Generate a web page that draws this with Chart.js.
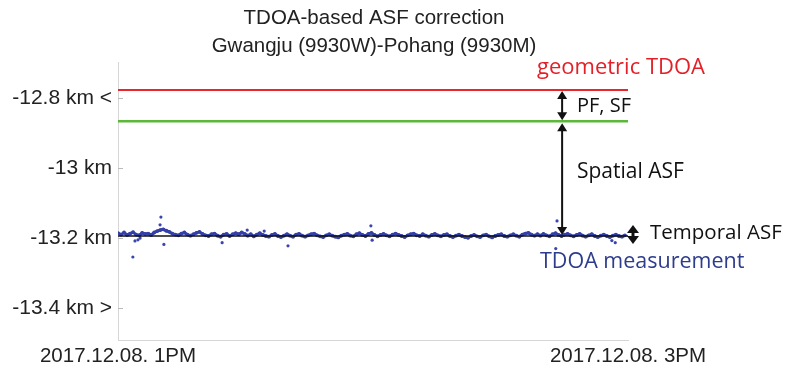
<!DOCTYPE html>
<html>
<head>
<meta charset="utf-8">
<script src="https://cdn.jsdelivr.net/npm/chart.js@4.4.1/dist/chart.umd.min.js"></script>
<style>
  body { margin: 0; background: #fff; }
  #wrap { width: 785px; height: 372px; }
</style>
</head>
<body>
<div id="wrap"><canvas id="asf-chart"></canvas></div>
<script>
// TDOA values in km, time in minutes after 1PM
const titleLines = ['TDOA-based ASF correction', 'Gwangju (9930W)-Pohang (9930M)'];

const xTickValues = [0, 120];
const xTickLabels = ['2017.12.08. 1PM', '2017.12.08. 3PM'];
const yTickValues = [-12.8, -13, -13.2, -13.4];
const yTickLabels = ['-12.8 km <', '-13 km', '-13.2 km', '-13.4 km >'];

const geometricTdoa = -12.777;
const pfSfCorrected = -12.866;
const measurementMean = -13.194;

const sampleStepMin = 0.71;
const tdoaMeasured = [
  -13.186, -13.190, -13.184, -13.191, -13.187, -13.183, -13.190, -13.192, -13.185, -13.188,
  -13.187, -13.191, -13.184, -13.180, -13.177, -13.175, -13.179, -13.182, -13.187, -13.190,
  -13.192, -13.187, -13.184, -13.190, -13.193, -13.189, -13.185, -13.182, -13.188, -13.192,
  -13.194, -13.189, -13.187, -13.193, -13.196, -13.190, -13.188, -13.194, -13.189, -13.186,
  -13.189, -13.184, -13.188, -13.193, -13.189, -13.195, -13.190, -13.186, -13.191, -13.194,
  -13.196, -13.191, -13.188, -13.194, -13.197, -13.193, -13.189, -13.193, -13.196, -13.190,
  -13.188, -13.193, -13.196, -13.192, -13.189, -13.187, -13.192, -13.195, -13.197, -13.192,
  -13.189, -13.193, -13.196, -13.198, -13.193, -13.190, -13.188, -13.193, -13.195, -13.189,
  -13.186, -13.191, -13.194, -13.188, -13.185, -13.191, -13.195, -13.191, -13.188, -13.192,
  -13.195, -13.190, -13.187, -13.191, -13.194, -13.197, -13.192, -13.189, -13.187, -13.192,
  -13.194, -13.189, -13.193, -13.196, -13.191, -13.188, -13.192, -13.195, -13.191, -13.189,
  -13.194, -13.197, -13.193, -13.190, -13.194, -13.197, -13.199, -13.194, -13.191, -13.195,
  -13.197, -13.192, -13.190, -13.195, -13.198, -13.194, -13.191, -13.189, -13.194, -13.196,
  -13.192, -13.189, -13.193, -13.196, -13.190, -13.187, -13.185, -13.190, -13.193, -13.189,
  -13.193, -13.188, -13.192, -13.195, -13.189, -13.186, -13.191, -13.194, -13.190, -13.188,
  -13.192, -13.195, -13.191, -13.188, -13.193, -13.196, -13.192, -13.189, -13.194, -13.197,
  -13.193, -13.190, -13.194, -13.197, -13.193, -13.190, -13.194, -13.196, -13.192
];

// isolated samples away from the band
const outlierTimes = [3.5, 4.0, 4.7, 5.2, 9.9, 10.1, 10.8, 24.5, 30.4, 34.4, 40.0, 59.5, 59.8, 103.3, 103.0, 116.2, 117.0];
const outlierValues = [-13.254, -13.208, -13.205, -13.200, -13.162, -13.140, -13.218, -13.213, -13.177, -13.180, -13.222, -13.165, -13.206, -13.151, -13.230, -13.207, -13.213];

const measuredPoints = tdoaMeasured.map((v, i) => ({ x: i * sampleStepMin, y: v }));
const outlierPoints = outlierTimes.map((t, i) => ({ x: t, y: outlierValues[i] }));
const flatLine = (v) => [{ x: 0, y: v }, { x: 120, y: v }];

const axisGray = '#d6d6d6';

function arrowHead(ctx, x, y, dir, len, half) {
  ctx.beginPath();
  ctx.moveTo(x, y);
  ctx.lineTo(x - half, y - dir * len);
  ctx.lineTo(x + half, y - dir * len);
  ctx.closePath();
  ctx.fill();
}

function doubleArrow(ctx, x, yTop, yBottom, len = 8, half = 5) {
  ctx.beginPath();
  ctx.moveTo(x, yTop + 4);
  ctx.lineTo(x, yBottom - 4);
  ctx.stroke();
  arrowHead(ctx, x, yTop, -1, len, half);
  arrowHead(ctx, x, yBottom, 1, len, half);
}

const annotations = {
  id: 'annotations',
  afterDraw(chart) {
    const { ctx, chartArea, scales: { x, y } } = chart;
    ctx.save();

    // title, centred over the whole figure
    ctx.fillStyle = '#222';
    ctx.textAlign = 'center';
    ctx.textBaseline = 'middle';
    ctx.font = '20.5px "Liberation Sans", Arial';
    ctx.fillText(titleLines[0], 374, 18);
    ctx.fillText(titleLines[1], 374, 46);

    // inward tick marks on the left axis
    ctx.strokeStyle = '#bbbbbb';
    ctx.lineWidth = 1;
    yTickValues.forEach(v => {
      const py = Math.round(y.getPixelForValue(v)) + 0.5;
      ctx.beginPath();
      ctx.moveTo(chartArea.left, py);
      ctx.lineTo(chartArea.left + 5, py);
      ctx.stroke();
    });

    const ax = x.getPixelForValue(104.5);
    const yRed = y.getPixelForValue(geometricTdoa);
    const yGreen = y.getPixelForValue(pfSfCorrected);
    const yBlack = y.getPixelForValue(measurementMean);

    ctx.strokeStyle = '#111';
    ctx.fillStyle = '#111';
    ctx.lineWidth = 2;
    doubleArrow(ctx, ax, yRed + 1, yGreen - 1);
    doubleArrow(ctx, ax, yGreen + 2, yBlack - 1);
    ctx.lineWidth = 3;
    doubleArrow(ctx, chartArea.right + 5, yBlack - 11, yBlack + 8, 8, 6);

    ctx.textAlign = 'left';
    ctx.font = '22px "Open Sans"';
    ctx.fillStyle = '#e32027';
    ctx.fillText('geometric TDOA', 537, 68);
    ctx.fillStyle = '#111';
    ctx.font = '20px "Open Sans"';
    ctx.fillText('PF, SF', 577, 106);
    ctx.font = '21px "Open Sans"';
    ctx.fillText('Spatial ASF', 577, 172);
    ctx.font = '20.5px "Open Sans"';
    ctx.fillText('Temporal ASF', 650, 233);
    ctx.fillStyle = '#2d3c8c';
    ctx.font = '21.5px "Open Sans"';
    ctx.fillText('TDOA measurement', 540, 262);
    ctx.restore();
  }
};

new Chart(document.getElementById('asf-chart'), {
  type: 'scatter',
  data: {
    datasets: [
      {
        data: flatLine(measurementMean),
        showLine: true,
        borderColor: '#111',
        borderWidth: 1.5,
        pointRadius: 0,
        order: 0
      },
      {
        data: measuredPoints,
        showLine: true,
        borderColor: '#2f3a9a',
        borderWidth: 3,
        pointRadius: 1.9,
        pointBackgroundColor: '#3440a8',
        pointBorderWidth: 0,
        order: 1
      },
      {
        data: outlierPoints,
        pointRadius: 1.6,
        pointBackgroundColor: '#3a46b0',
        pointBorderWidth: 0,
        order: 2
      },
      {
        data: flatLine(geometricTdoa),
        showLine: true,
        borderColor: '#e8262c',
        borderWidth: 2,
        pointRadius: 0,
        order: 3
      },
      {
        data: flatLine(pfSfCorrected),
        showLine: true,
        borderColor: '#5cb83a',
        borderWidth: 2.5,
        pointRadius: 0,
        order: 3
      }
    ]
  },
  options: {
    responsive: true,
    maintainAspectRatio: false,
    animation: false,
    layout: { padding: { left: 0, right: 157, top: 62, bottom: 0 } },
    plugins: {
      legend: { display: false },
      tooltip: { enabled: false },
      title: { display: false }
    },
    scales: {
      x: {
        type: 'linear',
        min: 0,
        max: 120,
        grid: { display: false, tickLength: 0 },
        border: { display: true, color: axisGray },
        afterBuildTicks: (scale) => { scale.ticks = xTickValues.map(v => ({ value: v })); },
        afterFit: (scale) => { scale.height = 32; },
        ticks: {
          autoSkip: false,
          maxRotation: 0,
          padding: 4,
          color: '#222',
          font: { family: '"Liberation Sans", Arial', size: 20.5 },
          callback: (v) => xTickLabels[xTickValues.indexOf(v)]
        }
      },
      y: {
        min: -13.491,
        max: -12.697,
        grid: { display: false, tickLength: 0 },
        border: { display: true, color: axisGray },
        afterBuildTicks: (scale) => { scale.ticks = yTickValues.map(v => ({ value: v })); },
        afterFit: (scale) => { scale.width = 118; },
        ticks: {
          padding: 6,
          color: '#222',
          font: { family: '"Liberation Sans", Arial', size: 21 },
          callback: (v) => yTickLabels[yTickValues.indexOf(v)]
        }
      }
    }
  },
  plugins: [annotations]
});
</script>
</body>
</html>
